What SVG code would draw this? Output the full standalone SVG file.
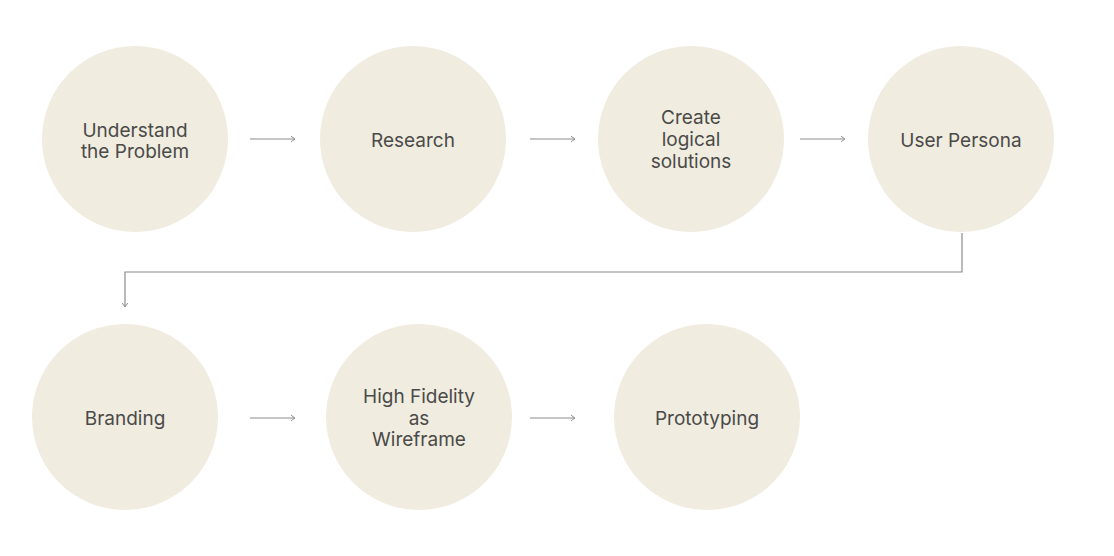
<svg xmlns="http://www.w3.org/2000/svg" width="1114" height="556" viewBox="0 0 1114 556">
<defs>
<style>
.node circle{fill:#f0ece0}
.node text{font-family:Inter,"DejaVu Sans",sans-serif;font-size:19px;fill:#4a4a48;text-anchor:middle}
.conn{fill:none;stroke:#8c8c8c;stroke-width:1.2}
</style>
<marker id="ah" viewBox="0 0 10 10" refX="9" refY="5" markerWidth="8" markerHeight="8" markerUnits="userSpaceOnUse" orient="auto">
<path d="M4,1.5 L9,5 L4,8.5" fill="none" stroke="#8c8c8c" stroke-width="1.2"/>
</marker>
</defs>
<rect width="1114" height="556" fill="#ffffff"/>
<g id="connectors">
<line class="conn" x1="250" y1="139" x2="295" y2="139" marker-end="url(#ah)"/>
<line class="conn" x1="530" y1="139" x2="575" y2="139" marker-end="url(#ah)"/>
<line class="conn" x1="800" y1="139" x2="845" y2="139" marker-end="url(#ah)"/>
<path class="conn" d="M962,233 V272 H125 V307" marker-end="url(#ah)"/>
<line class="conn" x1="250" y1="418" x2="295" y2="418" marker-end="url(#ah)"/>
<line class="conn" x1="530" y1="418" x2="575" y2="418" marker-end="url(#ah)"/>
</g>
<g id="node-understand" class="node">
<circle cx="135" cy="139" r="93"/>
<text x="135" y="137">Understand</text>
<text x="135" y="158">the Problem</text>
</g>
<g id="node-research" class="node">
<circle cx="413" cy="139" r="93"/>
<text x="413" y="147">Research</text>
</g>
<g id="node-create" class="node">
<circle cx="691" cy="139" r="93"/>
<text x="691" y="124">Create</text>
<text x="691" y="146">logical</text>
<text x="691" y="168">solutions</text>
</g>
<g id="node-persona" class="node">
<circle cx="961" cy="139" r="93"/>
<text x="961" y="147">User Persona</text>
</g>
<g id="node-branding" class="node">
<circle cx="125" cy="417" r="93"/>
<text x="125" y="425">Branding</text>
</g>
<g id="node-hifi" class="node">
<circle cx="419" cy="417" r="93"/>
<text x="419" y="403">High Fidelity</text>
<text x="419" y="425">as</text>
<text x="419" y="446">Wireframe</text>
</g>
<g id="node-proto" class="node">
<circle cx="707" cy="417" r="93"/>
<text x="707" y="425">Prototyping</text>
</g>
</svg>
